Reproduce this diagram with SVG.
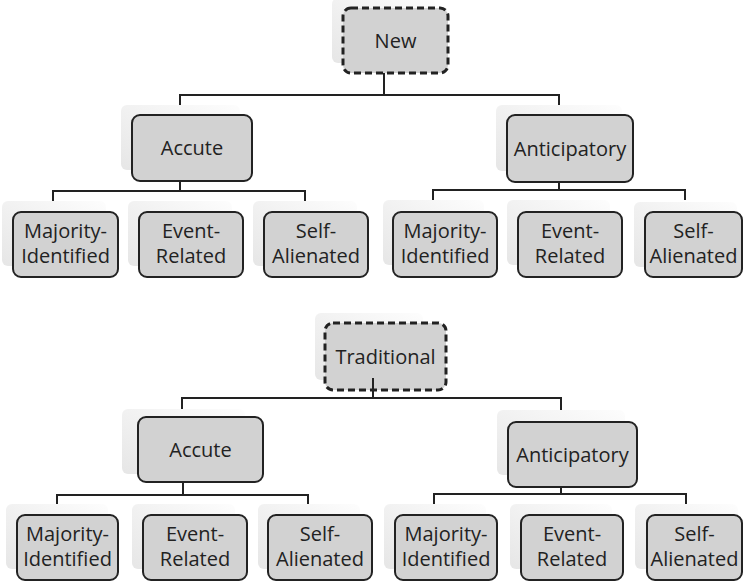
<svg xmlns="http://www.w3.org/2000/svg" width="743" height="581" viewBox="0 0 743 581">
<defs>
<linearGradient id="sh" x1="1" y1="0" x2="0" y2="1">
<stop offset="0" stop-color="#fdfdfd"/>
<stop offset="1" stop-color="#e6e6e6"/>
</linearGradient>
<style>
.sh{fill:url(#sh);}
.bx{fill:#d2d2d2;stroke:#222;stroke-width:2;}
.ds{fill:#d2d2d2;stroke:#222;stroke-width:3;stroke-dasharray:7 4;}
.t{font-family:"Open Sans","DejaVu Sans",sans-serif;font-size:20px;fill:#222;text-anchor:middle;}
.c{fill:none;stroke:#222;stroke-width:2;}
</style>
</defs>
<rect width="743" height="581" fill="#fff"/>

<g id="connectors">
<path class="c" d="M384 73V95M180 105V95H559V105"/>
<path class="c" d="M180 181V191M53 201V191H305V201"/>
<path class="c" d="M559 182V190M433 200V190H685V200"/>
<path class="c" d="M182 409V398H561V410"/>
<path class="c" d="M183 482V495M57 504V495H308V504"/>
<path class="c" d="M561 487V494M434 504V494H686V504"/>
</g>

<g id="new">
<rect class="sh" x="332" y="-2" width="103" height="65" rx="6"/>
<rect class="ds" x="343" y="8" width="105" height="65" rx="8"/>
<text class="t" x="395.5" y="48">New</text>
</g>
<g id="accute1">
<rect class="sh" x="121" y="105" width="119" height="65" rx="6"/>
<rect class="bx" x="132" y="115" width="120" height="66" rx="8"/>
<text class="t" x="192" y="155">Accute</text>
</g>
<g id="anticipatory1">
<rect class="sh" x="496" y="105" width="126" height="66" rx="6"/>
<rect class="bx" x="507" y="115" width="126" height="67" rx="8"/>
<text class="t" x="570" y="155.5">Anticipatory</text>
</g>
<g id="majority1">
<rect class="sh" x="2" y="201" width="104" height="65" rx="6"/>
<rect class="bx" x="13" y="212" width="105" height="65" rx="8"/>
<text class="t" x="65.5" y="238">Majority-</text>
<text class="t" x="65.5" y="262.5">Identified</text>
</g>
<g id="event1">
<rect class="sh" x="128" y="201" width="104" height="65" rx="6"/>
<rect class="bx" x="139" y="212" width="104" height="65" rx="8"/>
<text class="t" x="191" y="238">Event-</text>
<text class="t" x="191" y="262.5">Related</text>
</g>
<g id="self1">
<rect class="sh" x="253" y="201" width="104" height="65" rx="6"/>
<rect class="bx" x="264" y="212" width="104" height="65" rx="8"/>
<text class="t" x="316" y="238">Self-</text>
<text class="t" x="316" y="262.5">Alienated</text>
</g>
<g id="majority2">
<rect class="sh" x="383" y="200" width="101" height="65" rx="6"/>
<rect class="bx" x="393" y="212" width="104" height="65" rx="8"/>
<text class="t" x="445" y="238">Majority-</text>
<text class="t" x="445" y="262.5">Identified</text>
</g>
<g id="event2">
<rect class="sh" x="507" y="200" width="103" height="65" rx="6"/>
<rect class="bx" x="518" y="212" width="104" height="65" rx="8"/>
<text class="t" x="570" y="238">Event-</text>
<text class="t" x="570" y="262.5">Related</text>
</g>
<g id="self2">
<rect class="sh" x="634" y="202" width="103" height="65" rx="6"/>
<rect class="bx" x="645" y="212" width="97" height="65" rx="8"/>
<text class="t" x="693.5" y="238">Self-</text>
<text class="t" x="693.5" y="262.5">Alienated</text>
</g>

<g id="traditional">
<rect class="sh" x="315" y="313" width="108" height="67" rx="6"/>
<rect class="ds" x="325" y="323" width="121" height="67" rx="8"/>
<text class="t" x="385.5" y="363.5">Traditional</text>
</g>
<path class="c" d="M373 378V398"/>
<g id="accute2">
<rect class="sh" x="122" y="409" width="123" height="65" rx="6"/>
<rect class="bx" x="138" y="417" width="125" height="65" rx="8"/>
<text class="t" x="200.5" y="456.5">Accute</text>
</g>
<g id="anticipatory2">
<rect class="sh" x="497" y="410" width="128" height="65" rx="6"/>
<rect class="bx" x="508" y="422" width="129" height="65" rx="8"/>
<text class="t" x="572.5" y="461.5">Anticipatory</text>
</g>
<g id="majority3">
<rect class="sh" x="6" y="504" width="102" height="65" rx="6"/>
<rect class="bx" x="17" y="515" width="101" height="65" rx="8"/>
<text class="t" x="67.5" y="541">Majority-</text>
<text class="t" x="67.5" y="565.5">Identified</text>
</g>
<g id="event3">
<rect class="sh" x="132" y="504" width="103" height="65" rx="6"/>
<rect class="bx" x="143" y="515" width="104" height="65" rx="8"/>
<text class="t" x="195" y="541">Event-</text>
<text class="t" x="195" y="565.5">Related</text>
</g>
<g id="self3">
<rect class="sh" x="258" y="504" width="102" height="65" rx="6"/>
<rect class="bx" x="268" y="515" width="104" height="65" rx="8"/>
<text class="t" x="320" y="541">Self-</text>
<text class="t" x="320" y="565.5">Alienated</text>
</g>
<g id="majority4">
<rect class="sh" x="384" y="504" width="102" height="65" rx="6"/>
<rect class="bx" x="395" y="515" width="102" height="65" rx="8"/>
<text class="t" x="446" y="541">Majority-</text>
<text class="t" x="446" y="565.5">Identified</text>
</g>
<g id="event4">
<rect class="sh" x="510" y="504" width="102" height="65" rx="6"/>
<rect class="bx" x="521" y="515" width="102" height="65" rx="8"/>
<text class="t" x="572" y="541">Event-</text>
<text class="t" x="572" y="565.5">Related</text>
</g>
<g id="self4">
<rect class="sh" x="635" y="504" width="103" height="65" rx="6"/>
<rect class="bx" x="647" y="515" width="95" height="65" rx="8"/>
<text class="t" x="694.5" y="541">Self-</text>
<text class="t" x="694.5" y="565.5">Alienated</text>
</g>
</svg>
